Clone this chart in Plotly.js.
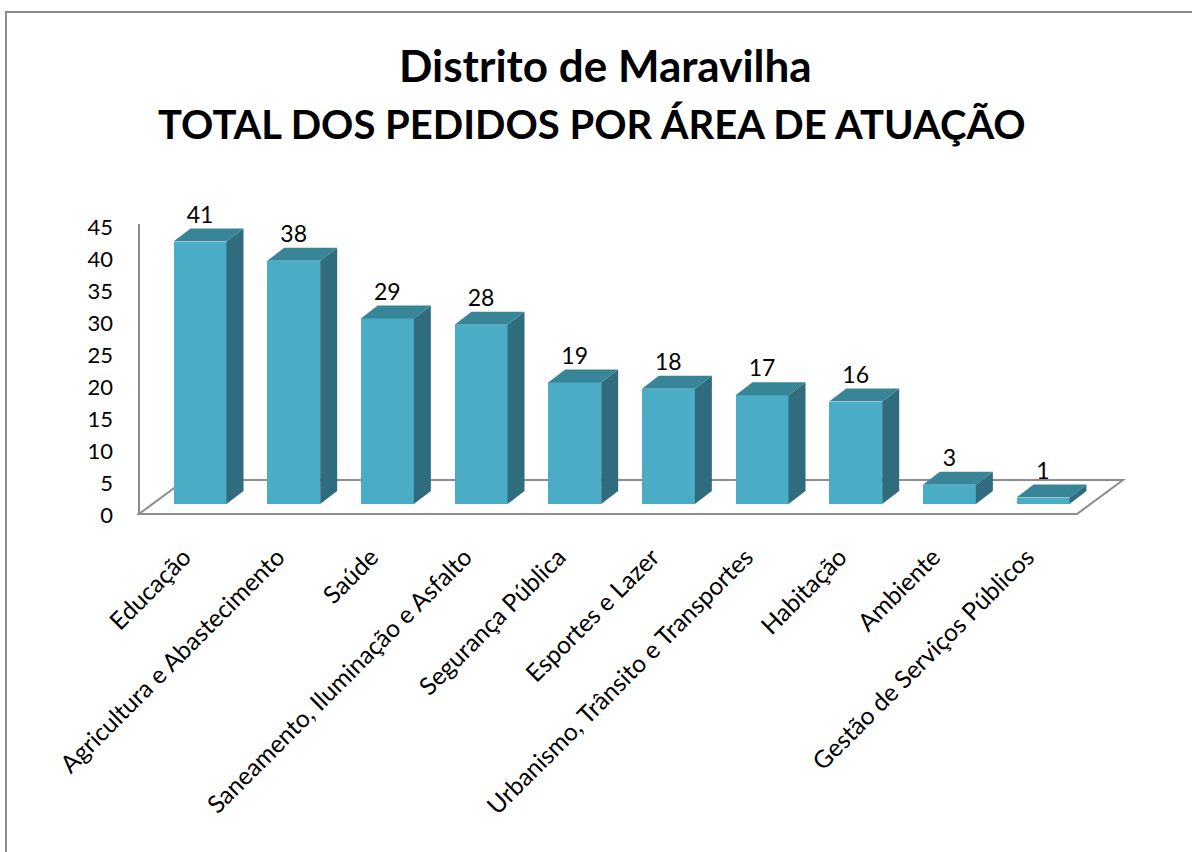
<!DOCTYPE html>
<html>
<head>
<meta charset="utf-8">
<script src="https://cdn.plot.ly/plotly-3.0.1.min.js"></script>
<style>
  html, body { margin: 0; padding: 0; background: #ffffff; }
  #wrap { position: relative; width: 1192px; height: 852px; overflow: hidden; }
  #chart { position: absolute; left: 0; top: 0; width: 1192px; height: 852px; }
  #frame { position: absolute; left: 5px; top: 11px; width: 1200px; height: 900px;
           border: 2px solid #8c8c8c; pointer-events: none; box-sizing: border-box; }
</style>
</head>
<body>
<div id="wrap">
  <div id="chart"></div>
  <div id="frame"></div>
</div>
<script>
// ---- data ----
const categories = [
  "Educação",
  "Agricultura e Abastecimento",
  "Saúde",
  "Saneamento, Iluminação e Asfalto",
  "Segurança Pública",
  "Esportes e Lazer",
  "Urbanismo, Trânsito e Transportes",
  "Habitação",
  "Ambiente",
  "Gestão de Serviços Públicos"
];
const values = [41, 38, 29, 28, 19, 18, 17, 16, 3, 1];
const yTickVals = [0, 5, 10, 15, 20, 25, 30, 35, 40, 45];
const titleLines = ["Distrito de Maravilha", "TOTAL DOS PEDIDOS POR ÁREA DE ATUAÇÃO"];

// ---- geometry (pixels of the picture) ----
const W = 1192, H = 852;
const PXY = 6.4;           // px per value unit
const BASE_PX = 504;       // y px of value 0 (front of bars)
const X0_PX = 200, STEP_PX = 93.67;
const plotLeft = 134, plotRight = 1128, plotTop = 208, plotBottom = 518;
const xRange = [(plotLeft - X0_PX) / STEP_PX, (plotRight - X0_PX) / STEP_PX];
const yRange = [(BASE_PX - plotBottom) / PXY, (BASE_PX - plotTop) / PXY];

const barW = 53 / STEP_PX;
const depthX = 17 / STEP_PX, depthY = 13 / PXY;
// floor
const floorFrontY = (BASE_PX - 514) / PXY, floorBackY = (BASE_PX - 480) / PXY;
const floorLeftX = (139 - X0_PX) / STEP_PX, floorRightX = (1077 - X0_PX) / STEP_PX;
const floorDX = 46 / STEP_PX;
const wallTopY = (BASE_PX - 224) / PXY;

const FRONT = "#4bacc6", TOP = "#378597", SIDE = "#2f6c7d", GRAY = "#8c8c8c";
const FONT = "Lato, 'Open Sans', sans-serif";

const xs = categories.map((c, i) => i);
const traces = [];

traces.push({
  type: "bar", x: xs, y: values, width: barW,
  marker: { color: FRONT, line: { width: 0 } },
  hoverinfo: "skip", showlegend: false
});

values.forEach((v, i) => {
  const r = i + barW / 2, l = i - barW / 2;
  traces.push({
    type: "scatter", mode: "lines", fill: "toself", fillcolor: SIDE,
    line: { width: 0, color: SIDE },
    x: [r, r + depthX, r + depthX, r, r],
    y: [0, depthY, v + depthY, v, 0],
    hoverinfo: "skip", showlegend: false
  });
  traces.push({
    type: "scatter", mode: "lines", fill: "toself", fillcolor: TOP,
    line: { width: 0, color: TOP },
    x: [l, r, r + depthX, l + depthX, l],
    y: [v, v, v + depthY, v + depthY, v],
    hoverinfo: "skip", showlegend: false
  });
});

traces.push({
  type: "scatter", mode: "text", x: xs,
  y: values.map(v => v + depthY),
  text: values.map(String), textposition: "top center",
  textfont: { family: FONT, size: 23, color: "#000" },
  cliponaxis: false, hoverinfo: "skip", showlegend: false
});

const shapes = [
  { type: "path", xref: "x", yref: "y", layer: "below",
    path: `M ${floorLeftX} ${floorFrontY} L ${floorRightX} ${floorFrontY} L ${floorRightX + floorDX} ${floorBackY} L ${floorLeftX + floorDX} ${floorBackY} Z`,
    line: { color: GRAY, width: 2 }, fillcolor: "rgba(0,0,0,0)" },
  { type: "line", xref: "x", yref: "y", layer: "below",
    x0: floorLeftX, x1: floorLeftX, y0: floorFrontY, y1: wallTopY,
    line: { color: GRAY, width: 2 } }
];

const pw = plotRight - plotLeft, ph = plotBottom - plotTop;
const px2paperX = px => (px - plotLeft) / pw;
const px2paperY = py => (plotBottom - py) / ph;

const annotations = [
  { text: "<b>" + titleLines[0] + "</b>", xref: "paper", yref: "paper",
    x: px2paperX(605), y: px2paperY(93), xanchor: "center", yanchor: "bottom",
    showarrow: false, font: { family: FONT, size: 44, color: "#000" } },
  { text: "<b>" + titleLines[1] + "</b>", xref: "paper", yref: "paper",
    x: px2paperX(592), y: px2paperY(150), xanchor: "center", yanchor: "bottom",
    showarrow: false, font: { family: FONT, size: 40, color: "#000" } }
];

const layout = {
  width: W, height: H,
  margin: { l: plotLeft, r: W - plotRight, t: plotTop, b: H - plotBottom },
  paper_bgcolor: "#fff", plot_bgcolor: "rgba(0,0,0,0)",
  showlegend: false,
  xaxis: {
    range: xRange, tickvals: xs, ticktext: categories, tickangle: -45,
    showgrid: false, zeroline: false, showline: false, ticks: "",
    tickfont: { family: FONT, size: 24.5, color: "#000" },
    ticklabelshift: -16, ticklabelstandoff: 19, fixedrange: true
  },
  yaxis: {
    range: yRange, tickvals: yTickVals, ticktext: yTickVals.map(String),
    showgrid: false, zeroline: false, showline: false, ticks: "",
    tickfont: { family: FONT, size: 22, color: "#000" },
    ticklabelshift: 11, ticklabelstandoff: 20, fixedrange: true
  },
  shapes: shapes,
  annotations: annotations,
  bargap: 0
};

Plotly.newPlot("chart", traces, layout, { displayModeBar: false, staticPlot: true });
</script>
</body>
</html>
